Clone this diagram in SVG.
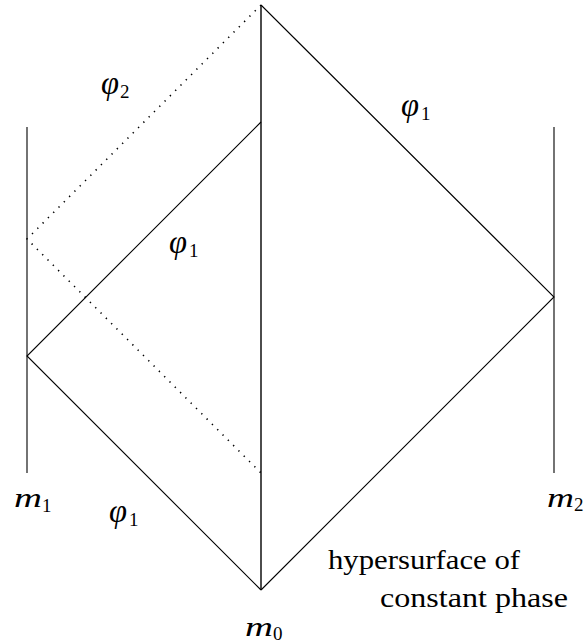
<svg xmlns="http://www.w3.org/2000/svg" width="585" height="644" viewBox="0 0 585 644">
<style>
.ln{stroke:#000;stroke-width:1.1;fill:none}
.dot{stroke:#000;stroke-width:1.6;fill:none;stroke-dasharray:1.3 6.2}
text{fill:#000}
</style>
<defs/>
<rect width="585" height="644" fill="#fff"/>
<g id="connectors">
<line class="ln" x1="27" y1="127" x2="27" y2="473"/>
<line class="ln" x1="554" y1="127" x2="554" y2="473"/>
<line class="ln" x1="261" y1="5" x2="261" y2="590" style="stroke-width:1.4"/>
<polyline class="ln" points="261,5 554,297 261,590"/>
<polyline class="ln" points="261,122 27,356 261,590"/>
<polyline class="dot" points="261,5 27,239 261,473"/>
</g>
<g font-family="'Liberation Serif', 'DejaVu Serif', serif">
<g id="label-phi2"><text font-style="italic" font-size="34" x="101" y="94" textLength="18" lengthAdjust="spacingAndGlyphs">φ</text><text font-size="19" x="120" y="98">2</text></g>
<g id="label-phi1-right"><text font-style="italic" font-size="34" x="401" y="116" textLength="18" lengthAdjust="spacingAndGlyphs">φ</text><text font-size="19" x="421" y="120">1</text></g>
<g id="label-phi1-center"><text font-style="italic" font-size="34" x="169" y="253" textLength="18" lengthAdjust="spacingAndGlyphs">φ</text><text font-size="19" x="189" y="257">1</text></g>
<g id="label-phi1-bottom"><text font-style="italic" font-size="34" x="109" y="522" textLength="18" lengthAdjust="spacingAndGlyphs">φ</text><text font-size="19" x="129" y="526">1</text></g>
<g id="label-m1"><text font-style="italic" font-size="28" x="14" y="507" textLength="28" lengthAdjust="spacingAndGlyphs">m</text><text font-size="19" x="42" y="512">1</text></g>
<g id="label-m2"><text font-style="italic" font-size="28" x="547" y="507" textLength="27" lengthAdjust="spacingAndGlyphs">m</text><text font-size="19" x="574" y="511">2</text></g>
<g id="label-m0"><text font-style="italic" font-size="28" x="245" y="636" textLength="28" lengthAdjust="spacingAndGlyphs">m</text><text font-size="19" x="273" y="640">0</text></g>
<g id="label-hypersurface">
<text font-size="28" x="328" y="569" textLength="192" lengthAdjust="spacingAndGlyphs">hypersurface of</text>
<text font-size="28" x="380" y="607" textLength="188" lengthAdjust="spacingAndGlyphs">constant phase</text>
</g>
</g>
</svg>
